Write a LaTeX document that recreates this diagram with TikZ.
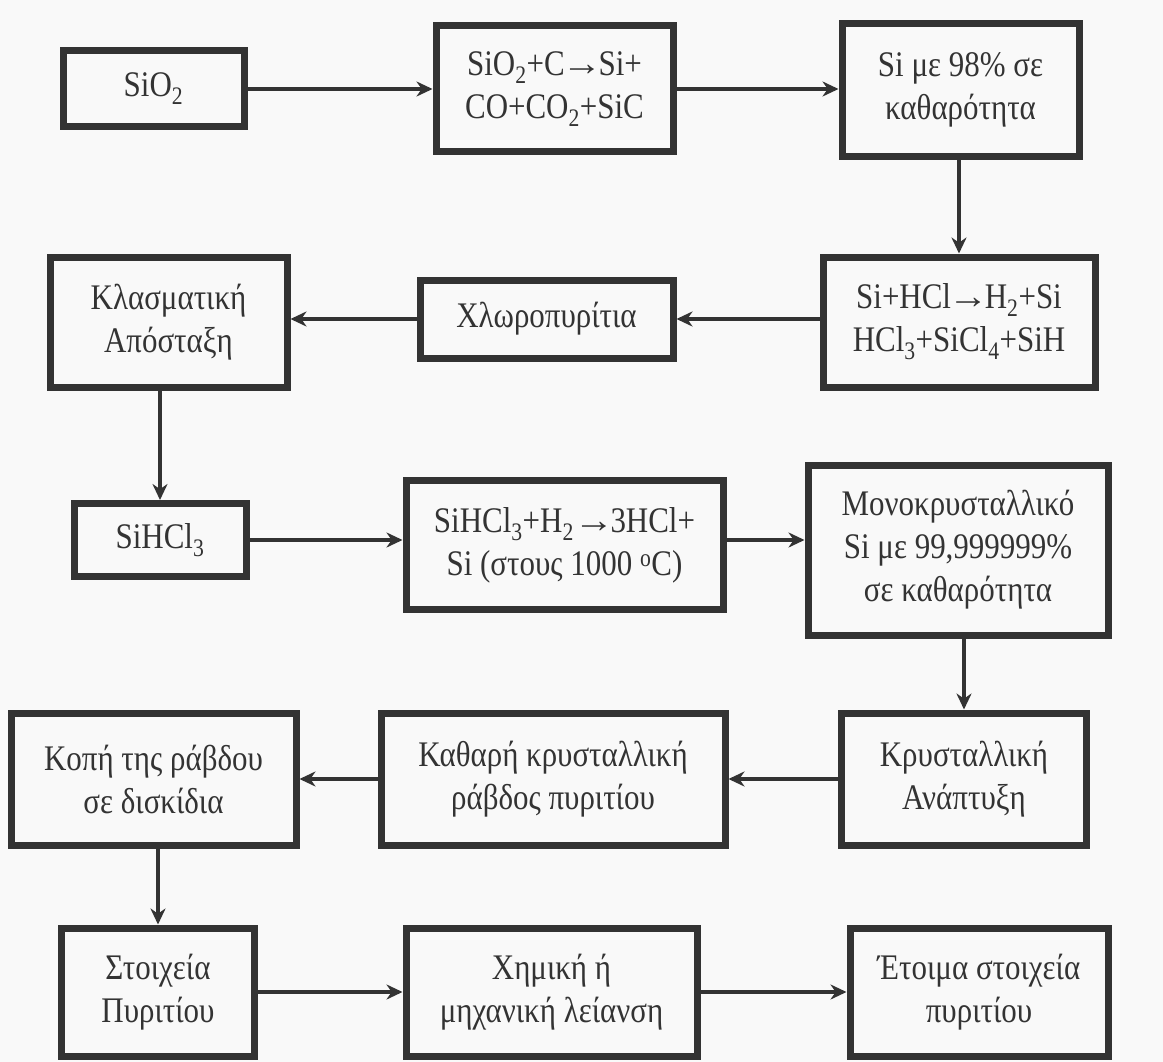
\documentclass[tikz,border=0pt]{standalone}
\usepackage{fontspec}
% tall, slightly condensed serif lettering
\setmainfont{Liberation Serif}[FakeStretch=0.86]
\usetikzlibrary{arrows.meta}
\definecolor{ink}{HTML}{333333}
\definecolor{paper}{HTML}{F9F9F9}
% reaction arrow inside the formulas
\newcommand\yldarrow{\scalebox{1.3}[1]{→}\kern-0.1em}
\newcommand\yld{\kern-0.08em\yldarrow}
\begin{document}
\begin{tikzpicture}[x=1pt,y=-1pt,
  box/.style={draw=ink, line width=7pt, align=center, inner sep=0pt,
    text=ink, font=\fontsize{36}{43}\selectfont},
  arr/.style={draw=ink, line width=4.5pt, -{Stealth[length=16pt,width=15pt]}}]
\fill[paper] (0,0) rectangle (1163,1062);
\useasboundingbox (0,0) rectangle (1163,1062);

% row 1
\node[box, minimum width=181pt, minimum height=76pt] (sio) at (153.5,89) {SiO\textsubscript{2}};
\node[box, minimum width=237pt, minimum height=126pt] (red) at (554.5,89)
  {SiO\textsubscript{2}+C\yld Si+\\CO+CO\textsubscript{2}+SiC};
\node[box, minimum width=237pt, minimum height=133pt] (si98) at (960.5,90)
  {Si με 98\% σε\\καθαρότητα};

% row 2
\node[box, minimum width=272pt, minimum height=130pt] (hcl) at (959,322)
  {Si+HCl\yld H\textsubscript{2}+Si\\HCl\textsubscript{3}+SiCl\textsubscript{4}+SiH};
\node[box, minimum width=253pt, minimum height=78pt] (chl) at (546.5,319) {Χλωροπυρίτια};
\node[box, minimum width=237pt, minimum height=130pt] (dist) at (168.5,322)
  {Κλασματική\\Απόσταξη};

% row 3
\node[box, minimum width=172pt, minimum height=73pt] (tcs) at (160,540) {SiHCl\textsubscript{3}};
\node[box, minimum width=317pt, minimum height=129pt] (dep) at (564.5,545)
  {SiHCl\textsubscript{3}+H\textsubscript{2}\yldarrow 3HCl+\\Si (στους 1000 \textsuperscript{o}C)};
\node[box, minimum width=300pt, minimum height=170pt] (mono) at (958,550)
  {Μονοκρυσταλλικό\\Si με 99,999999\%\\σε καθαρότητα};

% row 4
\node[box, minimum width=245pt, minimum height=132pt] (grow) at (964,779)
  {Κρυσταλλική\\Ανάπτυξη};
\node[box, minimum width=344pt, minimum height=132pt] (rod) at (553,779)
  {Καθαρή κρυσταλλική\\ράβδος πυριτίου};
\node[box, minimum width=285pt, minimum height=132pt] (cut) at (153.5,779)
  {Κοπή της ράβδου\\σε δισκίδια};

% row 5
\node[box, minimum width=193pt, minimum height=128pt] (wafer) at (158,992)
  {Στοιχεία\\Πυριτίου};
\node[box, minimum width=291pt, minimum height=128pt] (pol) at (551.5,992)
  {Χημική ή\\μηχανική λείανση};
\node[box, minimum width=258pt, minimum height=128pt] (ready) at (979,992)
  {Έτοιμα στοιχεία\\πυριτίου};

% connectors
\draw[arr] (sio.east) -- (sio.east -| red.west);
\draw[arr] (red.east) -- (red.east -| si98.west);
\draw[arr] (hcl.north |- si98.south) -- (hcl.north);
\draw[arr] (hcl.west |- chl.east) -- (chl.east);
\draw[arr] (chl.west) -- (chl.west -| dist.east);
\draw[arr] (tcs.north |- dist.south) -- (tcs.north);
\draw[arr] (tcs.east) -- (tcs.east -| dep.west);
\draw[arr] (dep.east |- tcs.east) -- (mono.west |- tcs.east);
\draw[arr] (grow.north |- mono.south) -- (grow.north);
\draw[arr] (grow.west) -- (grow.west -| rod.east);
\draw[arr] (rod.west) -- (rod.west -| cut.east);
\draw[arr] (wafer.north |- cut.south) -- (wafer.north);
\draw[arr] (wafer.east) -- (wafer.east -| pol.west);
\draw[arr] (pol.east) -- (pol.east -| ready.west);
\end{tikzpicture}
\end{document}
